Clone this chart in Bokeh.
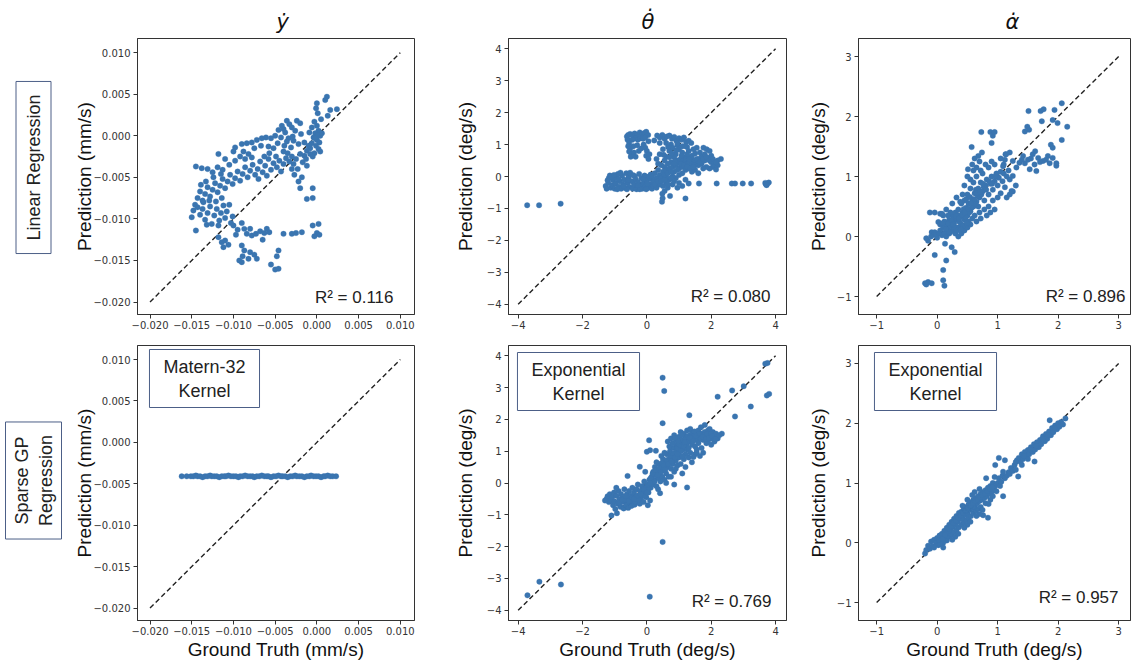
from bokeh.plotting import figure
from bokeh.layouts import row, column
from bokeh.models import Label, FixedTicker
from bokeh.embed import file_html
from bokeh.resources import INLINE

# ---------------- data ----------------
col_titles = ["\u1e8f", "\u03b8\u0307", "\u03b1\u0307"]
row_titles = ["Linear Regression", "Sparse GP\nRegression"]
kernel_names = ["Matern-32\nKernel", "Exponential\nKernel", "Exponential\nKernel"]
r2_lr = ["R\u00b2 = 0.116", "R\u00b2 = 0.080", "R\u00b2 = 0.896"]
r2_gp = [None, "R\u00b2 = 0.769", "R\u00b2 = 0.957"]
ylabels = ["Prediction (mm/s)", "Prediction (deg/s)", "Prediction (deg/s)"]
xlabels = ["Ground Truth (mm/s)", "Ground Truth (deg/s)", "Ground Truth (deg/s)"]

ticks_mm = [-0.020, -0.015, -0.010, -0.005, 0.0, 0.005, 0.010]
ticklabels_mm = ["\u22120.020", "\u22120.015", "\u22120.010", "\u22120.005", "0.000", "0.005", "0.010"]
ticks_th_x = [-4, -2, 0, 2, 4]
ticklabels_th_x = ["\u22124", "\u22122", "0", "2", "4"]
ticks_th_y = [-4, -3, -2, -1, 0, 1, 2, 3, 4]
ticklabels_th_y = ["\u22124", "\u22123", "\u22122", "\u22121", "0", "1", "2", "3", "4"]
ticks_al = [-1, 0, 1, 2, 3]
ticklabels_al = ["\u22121", "0", "1", "2", "3"]

diag_mm = [-0.020, 0.010]
diag_th = [-4, 4]
diag_al = [-1, 3]

lr_ydot = [
    (0.0012, 0.0047), (0.0010, 0.0043), (0.0000, 0.0039), (-0.0001, 0.0033), (0.0001, 0.0027),
    (0.0016, 0.0031), (0.0024, 0.0032), (0.0013, 0.0024), (0.0005, 0.0020), (-0.0003, 0.0017),
    (0.0000, 0.0012), (-0.0006, 0.0010), (0.0002, 0.0006), (-0.0002, 0.0003), (0.0004, 0.0000),
    (-0.0004, -0.0002), (0.0000, -0.0005), (0.0003, -0.0008), (-0.0006, -0.0009), (-0.0001, -0.0012),
    (0.0002, -0.0016), (-0.0008, -0.0015), (0.0004, -0.0019), (-0.0003, -0.0021), (-0.0012, -0.0018),
    (-0.0015, -0.0024), (0.0001, 0.0001), (-0.0002, -0.0003), (0.0006, 0.0003), (-0.0009, 0.0004),
    (-0.0036, 0.0018), (-0.0024, 0.0018), (-0.0020, 0.0015), (-0.0042, 0.0012), (-0.0030, 0.0010),
    (-0.0046, 0.0007), (-0.0038, 0.0004), (-0.0026, 0.0006), (-0.0019, 0.0002), (-0.0050, 0.0000),
    (-0.0043, -0.0002), (-0.0034, -0.0003), (-0.0028, -0.0006), (-0.0055, -0.0003), (-0.0061, -0.0002),
    (-0.0066, -0.0003), (-0.0072, -0.0005), (-0.0078, -0.0008), (-0.0084, -0.0009), (-0.0090, -0.0010),
    (-0.0047, -0.0009), (-0.0039, -0.0012), (-0.0031, -0.0014), (-0.0022, -0.0010), (-0.0015, -0.0008),
    (-0.0010, -0.0012), (-0.0052, -0.0015), (-0.0058, -0.0013), (-0.0067, -0.0012), (-0.0075, -0.0015),
    (-0.0098, -0.0014), (-0.0033, 0.0014), (-0.0040, 0.0008), (-0.0029, -0.0001), (-0.0036, -0.0007),
    (-0.0020, -0.0022), (-0.0025, -0.0028), (-0.0030, -0.0025), (-0.0033, -0.0031), (-0.0037, -0.0027),
    (-0.0040, -0.0034), (-0.0028, -0.0034), (-0.0035, -0.0021), (-0.0045, -0.0030), (-0.0048, -0.0038),
    (-0.0052, -0.0033), (-0.0055, -0.0041), (-0.0043, -0.0043), (-0.0058, -0.0028), (-0.0062, -0.0036),
    (-0.0065, -0.0044), (-0.0068, -0.0031), (-0.0071, -0.0040), (-0.0074, -0.0047), (-0.0077, -0.0035),
    (-0.0080, -0.0042), (-0.0083, -0.0050), (-0.0086, -0.0038), (-0.0089, -0.0046), (-0.0092, -0.0054),
    (-0.0095, -0.0043), (-0.0098, -0.0051), (-0.0101, -0.0058), (-0.0104, -0.0047), (-0.0107, -0.0055),
    (-0.0110, -0.0063), (-0.0113, -0.0052), (-0.0116, -0.0060), (-0.0119, -0.0068), (-0.0122, -0.0057),
    (-0.0125, -0.0065), (-0.0128, -0.0073), (-0.0131, -0.0062), (-0.0134, -0.0070), (-0.0137, -0.0078),
    (-0.0140, -0.0067), (-0.0143, -0.0075), (-0.0146, -0.0083), (-0.0013, -0.0028), (-0.0008, -0.0022),
    (-0.0005, -0.0025), (-0.0017, -0.0032), (-0.0023, -0.0040), (-0.0060, -0.0048), (-0.0070, -0.0052),
    (-0.0049, -0.0025), (-0.0057, -0.0021), (-0.0063, -0.0025), (-0.0012, -0.0036), (-0.0040, -0.0019),
    (-0.0118, -0.0022), (-0.0110, -0.0028), (-0.0105, -0.0035), (-0.0098, -0.0030), (-0.0092, -0.0025),
    (-0.0086, -0.0028), (-0.0100, -0.0019), (-0.0088, -0.0019), (-0.0082, -0.0022), (-0.0078, -0.0026),
    (-0.0145, -0.0037), (-0.0138, -0.0039), (-0.0131, -0.0040), (-0.0125, -0.0044), (-0.0119, -0.0038),
    (-0.0113, -0.0041), (-0.0124, -0.0050), (-0.0133, -0.0055), (-0.0139, -0.0059), (-0.0115, -0.0046),
    (-0.0150, -0.0098), (-0.0148, -0.0090), (-0.0143, -0.0086), (-0.0145, -0.0114), (-0.0140, -0.0095),
    (-0.0137, -0.0088), (-0.0134, -0.0101), (-0.0131, -0.0093), (-0.0128, -0.0085), (-0.0126, -0.0106),
    (-0.0123, -0.0096), (-0.0120, -0.0088), (-0.0117, -0.0102), (-0.0115, -0.0093), (-0.0112, -0.0084),
    (-0.0110, -0.0099), (-0.0108, -0.0091), (-0.0105, -0.0083), (-0.0103, -0.0105), (-0.0101, -0.0097),
    (-0.0136, -0.0080), (-0.0129, -0.0078), (-0.0121, -0.0079), (-0.0114, -0.0075), (-0.0132, -0.0107),
    (-0.0118, -0.0108),
    (-0.0118, -0.0122), (-0.0114, -0.0128), (-0.0110, -0.0126), (-0.0106, -0.0131), (-0.0112, -0.0134),
    (-0.0100, -0.0108), (-0.0095, -0.0113), (-0.0090, -0.0105), (-0.0087, -0.0112), (-0.0084, -0.0118),
    (-0.0080, -0.0112), (-0.0078, -0.0120), (-0.0073, -0.0118), (-0.0068, -0.0115), (-0.0063, -0.0117),
    (-0.0060, -0.0112), (-0.0057, -0.0116), (-0.0040, -0.0118), (-0.0030, -0.0118), (-0.0025, -0.0117),
    (-0.0018, -0.0116), (-0.0005, -0.0108), (0.0002, -0.0106), (0.0000, -0.0117), (0.0003, -0.0119),
    (-0.0003, -0.0121), (-0.0090, -0.0132), (-0.0087, -0.0138), (-0.0089, -0.0145), (-0.0093, -0.0150),
    (-0.0090, -0.0152), (-0.0082, -0.0148), (-0.0080, -0.0140), (-0.0075, -0.0143), (-0.0072, -0.0148),
    (-0.0055, -0.0155), (-0.0050, -0.0161), (-0.0046, -0.0160), (-0.0046, -0.0138), (-0.0048, -0.0145),
    (-0.0065, -0.0125), (-0.0097, -0.0119),
    (-0.0018, -0.0050), (-0.0022, -0.0055), (-0.0020, -0.0063), (-0.0005, -0.0063), (-0.0012, -0.0076),
    (-0.0005, -0.0075), (-0.0027, -0.0047), (-0.0030, -0.0040),
]

lr_thdot = [
    (-3.72, -0.90), (-3.35, -0.90), (-2.68, -0.85),
    (1.30, -0.22), (1.62, -0.22), (2.17, -0.22), (2.64, -0.22), (2.74, -0.22), (2.98, -0.22),
    (3.24, -0.22), (3.68, -0.20), (3.75, -0.22), (3.79, -0.19), (3.72, -0.27), (3.70, -0.24),
    (0.48, -0.54), (0.49, -0.68), (0.47, -0.79), (0.72, -0.61), (1.20, -0.69), (0.55, -0.45),
    (-1.28, -0.30), (-1.25, -0.38), (-1.20, -0.20), (-1.18, -0.05), (-1.15, 0.03), (-1.12, -0.35),
    (-1.08, -0.28), (-1.05, -0.12), (-1.00, -0.38), (-0.97, -0.22), (-0.94, -0.05), (-0.90, 0.08),
    (-0.87, -0.32), (-0.84, -0.15), (-0.80, -0.38), (-0.77, 0.02), (-0.74, -0.25), (-0.70, -0.10),
    (-0.67, -0.36), (-0.64, 0.10), (-0.60, -0.20), (-0.57, -0.03), (-0.54, -0.33), (-0.50, 0.06),
    (-0.47, -0.15), (-0.44, -0.38), (-0.40, -0.25), (-0.37, 0.00), (-0.34, -0.10), (-0.30, -0.35),
    (-0.27, -0.18), (-0.24, 0.08), (-0.20, -0.30), (-0.17, -0.05), (-0.14, -0.38), (-0.10, -0.20),
    (-0.07, 0.03), (-0.04, -0.30), (0.00, -0.12), (0.03, -0.36), (0.06, 0.00), (0.10, -0.25),
    (0.13, -0.08), (0.16, -0.38), (-1.10, 0.00), (-0.92, -0.40), (-0.62, -0.40), (-0.32, -0.40),
    (-0.02, -0.40), (-0.82, 0.12), (-0.52, 0.12), (-0.22, -0.40), (0.20, -0.30),
    (-1.22, -0.12), (-1.02, 0.05), (-0.88, -0.08), (-0.72, -0.30), (-0.58, -0.12), (-0.42, 0.04),
    (-0.28, -0.28), (-0.12, -0.08), (0.02, -0.22), (0.12, 0.06),
    (-0.62, 1.25), (-0.58, 1.30), (-0.52, 1.33), (-0.45, 1.28), (-0.38, 1.35), (-0.30, 1.30),
    (-0.22, 1.38), (-0.15, 1.32), (-0.08, 1.36), (-0.02, 1.40), (0.04, 1.30), (-0.60, 1.15),
    (-0.55, 1.05), (-0.58, 0.95), (-0.52, 0.88), (-0.55, 0.78), (-0.48, 0.70), (-0.50, 0.62),
    (-0.42, 0.95), (-0.40, 0.75), (-0.35, 1.20), (-0.28, 1.15), (-0.20, 1.20), (-0.12, 1.18),
    (-0.05, 1.22), (-0.25, 0.80), (-0.18, 0.88), (-0.10, 1.00), (-0.05, 0.90), (0.00, 0.80),
    (0.05, 1.10), (-0.02, 0.65), (0.05, 0.55), (-0.30, 0.98), (-0.45, 1.15), (0.08, 0.70),
    (-0.35, 0.62),
    (0.32, 1.28), (0.40, 1.22), (0.48, 1.30), (0.55, 1.18), (0.62, 1.25), (0.70, 1.28),
    (0.78, 1.18), (0.85, 1.24), (0.92, 1.12), (1.00, 1.20), (1.08, 1.15), (1.15, 1.22),
    (1.22, 1.08), (1.30, 1.12), (1.38, 1.05), (0.23, 1.13), (0.40, 1.05), (0.60, 1.05),
    (0.75, 1.00), (0.95, 0.98), (1.10, 0.95), (1.25, 0.92),
    (0.30, 0.55), (0.40, 0.70), (0.50, 0.85), (0.60, 0.62), (0.70, 0.80), (0.80, 0.90),
    (0.90, 0.70), (1.00, 0.85), (1.10, 0.75), (1.20, 0.60), (1.30, 0.80), (1.40, 0.65),
    (1.50, 0.72), (1.60, 0.55), (1.70, 0.62), (1.80, 0.50), (1.90, 0.58), (2.00, 0.45),
    (2.10, 0.40), (2.20, 0.35), (2.30, 0.55), (1.76, 0.90), (1.86, 0.85), (1.95, 0.80),
    (2.05, 0.30), (2.15, 0.22), (1.95, 0.25), (1.85, 0.30), (1.70, 0.40), (1.55, 0.45),
    (1.45, 0.50), (1.35, 0.40), (1.25, 0.45), (1.15, 0.50), (1.05, 0.55), (0.95, 0.50),
    (0.85, 0.60), (0.75, 0.45), (0.65, 0.40), (0.55, 0.30), (0.45, 0.35), (0.35, 0.20),
    (0.25, 0.10), (0.15, 0.00), (0.20, -0.15), (0.30, -0.05), (0.40, 0.05), (0.50, 0.15),
    (0.60, 0.20), (0.70, 0.25), (0.80, 0.30), (0.90, 0.35), (1.00, 0.25), (1.10, 0.30),
    (1.20, 0.20), (1.30, 0.25), (1.40, 0.15), (1.50, 0.20), (1.60, 0.10), (1.00, 0.05),
    (0.90, -0.05), (0.80, 0.00), (0.70, -0.10), (0.60, -0.20), (0.50, -0.30), (0.40, -0.25),
    (0.30, -0.35), (0.60, 0.00), (0.85, 0.15), (1.10, 0.10), (1.35, 0.60), (1.55, 0.90),
    (1.65, 0.75), (1.45, 0.85), (1.20, 0.95), (0.95, 1.05), (0.70, 0.60), (0.55, 0.50),
    (0.35, 0.40), (2.20, 0.50), (2.00, 0.65), (1.80, 0.70), (1.60, 0.35), (1.75, 0.25),
    (1.20, -0.10), (1.00, -0.20), (0.80, -0.25), (0.65, -0.35), (1.10, -0.30), (0.95, -0.35),
    (0.88, 0.48), (1.02, 0.42), (1.18, 0.38), (1.32, 0.55), (1.48, 0.35), (1.62, 0.48),
    (0.78, 0.72), (0.92, 0.82), (1.08, 0.65), (1.25, 0.70), (0.66, 0.92), (0.52, 0.68),
    (0.25, -0.25), (0.35, -0.15), (0.45, -0.05), (0.55, 0.05), (0.65, 0.10), (0.75, 0.15),
    (0.85, 0.40), (0.95, 0.20), (1.05, 0.40), (1.15, 0.35), (1.25, 0.30), (1.35, 0.25),
    (1.45, 0.30), (1.55, 0.55), (1.65, 0.45), (1.75, 0.55), (1.85, 0.60), (1.95, 0.50),
    (2.05, 0.55), (2.15, 0.45), (0.45, -0.15), (0.55, -0.10), (0.65, -0.25), (0.75, -0.05),
    (0.85, -0.15),
]

lr_adot = [
    (-0.20, -0.78), (-0.15, -0.76), (-0.09, -0.78), (-0.18, -0.80), (0.12, -0.82), (0.10, -0.73),
    (0.10, -0.56), (0.15, -0.40), (-0.04, -0.31), (0.24, -0.18), (0.29, -0.26), (0.13, -0.12),
    (-0.12, 0.40), (-0.04, 0.40), (0.02, 0.24), (-0.09, 0.07), (-0.15, -0.07), (-0.18, -0.03),
    (-0.04, 0.07), (0.05, 0.38),
    (0.05, 0.10), (0.08, 0.02), (0.10, 0.15), (0.12, 0.05), (0.15, 0.20), (0.15, 0.00),
    (0.18, 0.12), (0.20, 0.28), (0.20, 0.05), (0.22, 0.18), (0.25, 0.35), (0.25, 0.10),
    (0.28, 0.22), (0.30, 0.40), (0.30, 0.05), (0.32, 0.28), (0.35, 0.15), (0.35, 0.45),
    (0.38, 0.32), (0.40, 0.20), (0.40, 0.55), (0.42, 0.40), (0.45, 0.28), (0.45, 0.60),
    (0.48, 0.48), (0.50, 0.35), (0.50, 0.70), (0.52, 0.55), (0.55, 0.42), (0.55, 0.80),
    (0.58, 0.62), (0.60, 0.50), (0.60, 0.90), (0.62, 0.72), (0.65, 0.58), (0.65, 1.00),
    (0.68, 0.80), (0.70, 0.65), (0.72, 0.90), (0.75, 0.75), (0.75, 1.05), (0.78, 0.60),
    (0.80, 0.85), (0.82, 0.95), (0.85, 0.70), (0.88, 0.88), (0.90, 1.00), (0.92, 0.78),
    (0.95, 0.92), (0.98, 1.05), (1.00, 0.85), (1.02, 0.98), (1.05, 1.08), (1.08, 0.92),
    (1.10, 1.05), (1.12, 0.82), (1.15, 1.00), (1.18, 1.10), (0.30, 0.15), (0.28, 0.30),
    (0.22, 0.40), (0.18, 0.35), (0.12, 0.25), (0.10, 0.35), (0.05, 0.20), (0.02, 0.05),
    (0.00, -0.02), (-0.05, 0.03), (-0.10, 0.00), (0.35, 0.00), (0.40, 0.05), (0.45, 0.10),
    (0.50, 0.15), (0.55, 0.20), (0.58, 0.30), (0.62, 0.35), (0.65, 0.25), (0.70, 0.40),
    (0.72, 0.30), (0.78, 0.45), (0.82, 0.35), (0.85, 0.50), (0.88, 0.40), (0.92, 0.60),
    (0.95, 0.45), (1.00, 0.65), (0.68, 0.50), (0.52, 0.25), (0.48, 0.62), (0.42, 0.70),
    (0.38, 0.58), (0.55, 0.95), (0.60, 1.10), (0.50, 1.00), (0.45, 0.85), (0.65, 1.15),
    (0.70, 1.25), (0.62, 1.30), (0.58, 1.20), (0.72, 1.10), (0.80, 1.20), (0.85, 1.15),
    (0.90, 1.25), (0.95, 1.20), (1.05, 1.30), (1.10, 1.20), (1.20, 1.40), (1.15, 0.65),
    (1.20, 0.70), (1.25, 0.75), (1.30, 0.85), (1.05, 0.72), (0.25, 0.55), (0.32, 0.65),
    (0.15, 0.45), (0.08, 0.38),
    (0.22, 0.08), (0.27, 0.16), (0.33, 0.10), (0.37, 0.24), (0.43, 0.18), (0.47, 0.32),
    (0.53, 0.40), (0.57, 0.48), (0.63, 0.55), (0.67, 0.68), (0.73, 0.70), (0.77, 0.82),
    (0.18, 0.22), (0.24, 0.26), (0.34, 0.36), (0.44, 0.46), (0.54, 0.66), (0.64, 0.78),
    (0.26, 0.20), (0.31, 0.34), (0.36, 0.30), (0.41, 0.36), (0.46, 0.40), (0.51, 0.46),
    (0.56, 0.56), (0.61, 0.62), (0.66, 0.72), (0.71, 0.74), (0.76, 0.88), (0.81, 0.78),
    (0.86, 0.92), (0.91, 0.88), (0.96, 1.00), (0.19, 0.08), (0.14, 0.12), (0.09, 0.22),
    (0.39, 0.12), (0.49, 0.22),
    (0.88, 1.74), (0.92, 1.68), (0.73, 1.74), (0.90, 1.56), (0.74, 1.40), (0.68, 1.34),
    (0.57, 1.49), (0.51, 1.12), (1.13, 1.37), (1.12, 1.28), (1.23, 0.76), (0.95, 1.74),
    (2.06, 2.22), (1.94, 2.11), (1.71, 2.09), (1.76, 2.12), (1.51, 2.09), (1.99, 1.89),
    (1.91, 1.94), (2.15, 1.83), (1.73, 1.92), (1.49, 1.83), (1.52, 1.78), (1.45, 1.75),
    (1.88, 1.53), (1.91, 1.48), (2.06, 1.61), (1.97, 1.18), (1.64, 1.09),
    (1.42, 1.34), (1.50, 1.28), (1.58, 1.37), (1.67, 1.31), (1.75, 1.26), (1.83, 1.34),
    (1.91, 1.31), (1.61, 1.20), (1.53, 1.12), (1.97, 1.22), (1.36, 1.23), (1.31, 1.15),
    (1.25, 1.01), (1.20, 0.95), (1.14, 1.37), (1.25, 1.26), (1.09, 1.17), (1.45, 1.22),
    (1.55, 1.30), (1.70, 1.24), (1.80, 1.28), (1.86, 1.22), (1.40, 1.28), (1.62, 1.42),
]

gp_ydot_x = [-0.0162, -0.0156, -0.0151, -0.0148, -0.0145, -0.0143, -0.0140, -0.0137, -0.0134,
             -0.0131, -0.0128, -0.0126, -0.0123, -0.0120, -0.0117, -0.0114, -0.0111, -0.0109,
             -0.0106, -0.0103, -0.0100, -0.0097, -0.0094, -0.0092, -0.0089, -0.0086, -0.0083,
             -0.0080, -0.0077, -0.0075, -0.0072, -0.0069, -0.0066, -0.0063, -0.0060, -0.0058,
             -0.0055, -0.0052, -0.0049, -0.0046, -0.0043, -0.0041, -0.0038, -0.0035, -0.0032,
             -0.0029, -0.0026, -0.0024, -0.0021, -0.0018, -0.0015, -0.0012, -0.0009, -0.0007,
             -0.0004, -0.0001, 0.0002, 0.0005, 0.0008, 0.0010, 0.0013, 0.0016, 0.0019, 0.0023]
gp_ydot_y = [-0.0041, -0.0041, -0.0041, -0.0041, -0.0040, -0.0041, -0.0041, -0.0042, -0.0041,
             -0.0041, -0.0040, -0.0041, -0.0041, -0.0041, -0.0042, -0.0041, -0.0041, -0.0041,
             -0.0040, -0.0041, -0.0041, -0.0041, -0.0042, -0.0041, -0.0041, -0.0040, -0.0041,
             -0.0041, -0.0041, -0.0042, -0.0041, -0.0041, -0.0040, -0.0041, -0.0041, -0.0041,
             -0.0042, -0.0041, -0.0041, -0.0040, -0.0041, -0.0041, -0.0041, -0.0042, -0.0041,
             -0.0041, -0.0040, -0.0041, -0.0041, -0.0041, -0.0042, -0.0041, -0.0041, -0.0040,
             -0.0041, -0.0041, -0.0041, -0.0042, -0.0041, -0.0041, -0.0040, -0.0041, -0.0041, -0.0041]

gp_thdot = [
    (-3.71, -3.53), (-3.34, -3.10), (-2.67, -3.19), (0.09, -3.57), (0.49, -1.85), (0.49, 3.31),
    (0.54, 2.89), (0.49, 1.88), (1.32, 2.13), (2.20, 2.71), (2.65, 2.91), (3.01, 3.04),
    (3.23, 2.40), (2.74, 2.09), (3.68, 3.75), (3.75, 3.77), (3.80, 2.80), (3.73, 2.75),
    (1.25, -0.14), (0.41, -0.32),
    (-1.25, -0.50), (-1.22, -0.42), (-1.18, -0.60), (-1.15, -0.35), (-1.12, -0.55), (-1.10, -1.02),
    (-1.08, -0.45), (-1.05, -0.70), (-1.02, -0.30), (-1.00, -0.58), (-0.98, -0.82), (-0.95, -0.40),
    (-0.93, -0.95), (-0.90, -0.65), (-0.88, -0.25), (-0.85, -0.50), (-0.82, -0.75), (-0.80, -0.35),
    (-0.78, -0.60), (-0.75, -0.45), (-0.72, -0.80), (-0.70, -0.20), (-0.68, -0.55), (-0.65, -0.70),
    (-0.62, -0.35), (-0.60, -0.50), (-0.58, -0.78), (-0.55, -0.25), (-0.52, -0.62), (-0.50, -0.40),
    (-0.48, -0.72), (-0.45, -0.15), (-0.42, -0.55), (-0.40, -0.30), (-0.38, -0.68), (-0.35, -0.45),
    (-0.32, -0.20), (-0.30, -0.60), (-0.28, -0.05), (-0.25, -0.40), (-0.22, -0.65), (-0.20, -0.25),
    (-0.18, -0.50), (-0.15, -0.10), (-0.12, -0.35), (-0.10, -0.60), (-0.08, 0.05), (-0.05, -0.25),
    (-0.02, -0.45), (0.00, -0.10), (0.03, -0.70), (0.05, -0.30), (0.08, 0.10), (0.10, -0.55),
    (0.12, -0.15), (-0.60, 0.22), (-0.22, 0.51), (-0.05, 0.35), (0.00, 0.98), (0.10, 1.03),
    (0.07, 1.34), (0.28, 1.01), (-1.30, -0.55), (-0.95, -0.15),
    (-0.86, -0.62), (-0.76, -0.52), (-0.66, -0.42), (-0.56, -0.56), (-0.46, -0.46), (-0.36, -0.58),
    (-0.26, -0.52), (-0.16, -0.38), (-0.06, -0.40), (0.04, -0.20),
    (0.15, 0.20), (0.18, -0.05), (0.20, 0.35), (0.22, 0.10), (0.25, 0.50), (0.28, 0.25),
    (0.30, -0.10), (0.32, 0.40), (0.35, 0.15), (0.38, 0.60), (0.40, 0.30), (0.42, 0.05),
    (0.45, 0.50), (0.48, 0.20), (0.50, 0.75), (0.52, 0.40), (0.55, 0.10), (0.58, 0.62),
    (0.60, 0.30), (0.62, 0.90), (0.65, 0.50), (0.68, 0.20), (0.70, 0.75), (0.72, 1.00),
    (0.75, 0.45), (0.78, 0.85), (0.80, 0.60), (0.82, 1.10), (0.85, 0.35), (0.88, 0.95),
    (0.90, 0.70), (0.92, 1.20), (0.95, 0.55), (0.98, 1.05), (0.30, 0.65), (0.45, 0.85),
    (0.55, 0.95), (0.35, -0.20), (0.60, 0.00), (0.75, 0.20), (0.85, -0.05), (0.90, 0.45),
    (1.00, 0.80), (1.05, 0.60), (1.10, 0.30), (1.15, 0.75), (1.20, 0.50), (1.30, 0.80),
    (1.40, 0.65), (1.50, 0.90),
    (0.05, -0.05), (0.12, 0.15), (0.18, 0.30), (0.24, 0.05), (0.27, 0.40), (0.33, 0.25),
    (0.37, 0.45), (0.43, 0.35), (0.47, 0.62), (0.53, 0.55), (0.57, 0.42), (0.63, 0.72),
    (0.67, 0.60), (0.73, 0.85), (0.77, 0.68), (0.83, 0.92), (0.87, 0.80), (0.93, 1.05),
    (0.97, 0.95), (1.03, 1.15), (1.07, 1.25), (1.13, 1.05), (1.18, 1.30), (1.23, 1.22),
    (-0.40, -0.50), (-0.30, -0.40), (-0.20, -0.35), (-0.10, -0.20), (0.00, -0.30), (0.10, 0.00),
    (0.65, 1.30), (0.70, 1.15), (0.75, 1.40), (0.80, 1.25), (0.85, 1.50), (0.90, 1.35),
    (0.95, 1.10), (1.00, 1.45), (1.00, 1.20), (1.05, 1.60), (1.05, 1.00), (1.10, 1.35),
    (1.15, 1.55), (1.15, 1.15), (1.20, 1.40), (1.25, 1.65), (1.25, 1.05), (1.30, 1.30),
    (1.35, 1.50), (1.40, 1.20), (1.40, 1.60), (1.45, 1.40), (1.50, 1.55), (1.50, 1.15),
    (1.55, 1.35), (1.60, 1.65), (1.60, 1.25), (1.65, 1.45), (1.70, 1.55), (1.70, 1.10),
    (1.75, 1.35), (1.80, 1.60), (1.80, 1.82), (1.85, 1.45), (1.90, 1.30), (1.90, 1.65),
    (1.95, 1.50), (2.00, 1.40), (2.05, 1.60), (2.10, 1.45), (2.15, 1.55), (2.20, 1.40),
    (2.33, 1.55), (1.55, 0.95), (1.65, 0.85), (1.75, 0.95), (1.45, 0.82), (1.35, 0.95),
    (1.20, 0.90), (1.10, 0.85), (0.95, 0.90), (1.30, 1.10), (1.55, 1.05), (1.85, 1.25),
    (2.00, 1.20), (2.10, 1.30), (1.95, 1.70), (1.68, 1.75), (1.35, 1.70),
    (0.88, 1.42), (0.98, 1.30), (1.08, 1.50), (1.18, 1.28), (1.28, 1.48), (1.38, 1.38),
    (1.48, 1.62), (1.58, 1.45), (1.68, 1.38), (1.78, 1.50), (1.88, 1.55), (2.00, 1.55),
    (1.33, 1.42), (1.43, 1.30), (1.53, 1.48), (1.63, 1.55), (1.73, 1.45), (1.83, 1.38),
    (1.93, 1.42), (2.03, 1.48), (2.13, 1.38), (2.25, 1.50),
]

gp_adot = [
    (-0.20, -0.18), (-0.18, -0.12), (-0.15, -0.05), (-0.12, -0.10), (-0.10, 0.02), (-0.08, -0.06),
    (-0.05, 0.05), (-0.02, 0.00), (0.00, 0.08), (0.02, -0.04), (0.04, 0.12), (0.06, 0.03),
    (0.08, 0.15), (0.10, -0.08), (0.10, 0.08), (0.12, 0.20), (0.14, 0.10), (0.16, 0.25),
    (0.16, 0.04), (0.18, 0.18), (0.20, 0.30), (0.20, 0.10), (0.22, 0.22), (0.24, 0.35),
    (0.24, 0.14), (0.26, 0.27), (0.28, 0.40), (0.28, 0.18), (0.30, 0.30), (0.32, 0.45),
    (0.32, 0.22), (0.34, 0.35), (0.36, 0.50), (0.36, 0.26), (0.38, 0.40), (0.40, 0.52),
    (0.40, 0.30), (0.42, 0.44), (0.44, 0.56), (0.44, 0.34), (0.46, 0.47), (0.48, 0.60),
    (0.48, 0.38), (0.50, 0.50), (0.52, 0.64), (0.52, 0.42), (0.54, 0.55), (0.56, 0.68),
    (0.56, 0.45), (0.58, 0.58), (0.60, 0.72), (0.60, 0.50), (0.62, 0.62), (0.64, 0.75),
    (0.64, 0.53), (0.66, 0.66), (0.68, 0.78), (0.68, 0.57), (0.70, 0.70), (0.72, 0.82),
    (0.72, 0.60), (0.74, 0.72), (0.76, 0.85), (0.76, 0.46), (0.78, 0.75), (0.80, 0.88),
    (0.80, 0.66), (0.82, 0.78), (0.84, 0.92), (0.84, 0.42), (0.86, 0.82), (0.88, 0.95),
    (0.88, 0.72), (0.90, 0.85), (0.92, 1.00), (0.92, 0.78), (0.94, 0.90), (0.96, 1.30),
    (0.96, 0.95), (0.98, 0.86), (1.00, 1.00), (1.02, 1.42), (1.02, 1.08), (1.04, 0.95),
    (1.06, 1.02), (1.08, 1.12), (1.09, 1.19), (1.09, 0.78), (1.12, 1.38), (1.12, 1.08),
    (1.15, 1.12), (1.18, 1.18), (1.20, 1.15), (1.22, 1.25), (1.25, 1.20), (1.28, 1.30),
    (1.30, 1.22), (1.32, 1.38), (1.34, 1.11), (1.35, 1.42), (1.38, 1.35), (1.40, 1.48),
    (1.42, 1.40), (1.45, 1.52), (1.48, 1.45), (1.50, 1.55), (1.52, 1.48), (1.55, 1.60),
    (1.58, 1.52), (1.60, 1.65), (1.61, 1.36), (1.62, 1.56), (1.65, 1.68), (1.68, 1.60),
    (1.70, 1.72), (1.72, 1.65), (1.75, 1.78), (1.78, 1.70), (1.80, 1.82), (1.82, 1.74),
    (1.85, 1.86), (1.86, 2.05), (1.88, 1.80), (1.90, 1.92), (1.92, 1.85), (1.95, 1.96),
    (1.98, 1.90), (2.00, 2.00), (2.05, 2.02), (2.08, 1.98), (2.12, 2.08), (2.02, 1.94),
    (1.40, 1.30), (1.50, 1.40), (1.30, 1.35), (0.10, 0.00), (0.20, 0.20), (0.30, 0.10),
    (0.40, 0.40), (0.50, 0.30), (0.60, 0.60), (0.70, 0.48), (0.45, 0.25), (0.35, 0.15),
    (0.25, 0.05), (0.55, 0.35), (0.65, 0.45), (0.75, 0.55), (0.85, 0.65), (0.15, 0.15),
    (0.05, -0.02), (-0.05, -0.08), (0.58, 0.80), (0.62, 0.85), (0.70, 0.90), (0.50, 0.72),
    (0.42, 0.62), (0.95, 1.10), (0.81, 1.08),
    (0.03, 0.05), (0.09, 0.06), (0.13, 0.13), (0.19, 0.24), (0.23, 0.28), (0.27, 0.33),
    (0.31, 0.37), (0.35, 0.42), (0.39, 0.46), (0.43, 0.50), (0.47, 0.54), (0.51, 0.58),
    (0.55, 0.62), (0.59, 0.66), (0.63, 0.70), (0.67, 0.72), (0.71, 0.76), (0.75, 0.80),
    (0.79, 0.82), (0.83, 0.86), (0.87, 0.90), (0.91, 0.93), (1.44, 1.45), (1.54, 1.56),
    (1.64, 1.62), (1.74, 1.74), (1.84, 1.80), (1.94, 1.92),
]

# ---------------- styling / layout ----------------
DOT = "#3a75b0"
BOX = "#4c5f87"
ROW_H = [335, 327]
BORDERS = [(38, 21), (10, 42)]  # (top, bottom) per row
COL0_W = 68
COLS = [  # width, min_border_left, min_border_right, ylabel standoff
    (372, 69, 26, -5),
    (360, 68, 14, 8),
    (331, 58, 1, 5),
]
TITLE_OFFSETS = [139, 133, 147]

rng_mm = (-0.0215, 0.0117)
rng_th_x = (-4.30, 4.34)
rng_th_y = (-4.32, 4.32)
rng_al_x = (-1.30, 3.196)
rng_al_y = (-1.30, 3.30)

fh1 = ROW_H[0] - sum(BORDERS[0])
fh2 = ROW_H[1] - sum(BORDERS[1])


def unzip(pts):
    return [q[0] for q in pts], [q[1] for q in pts]


def make_label_fig(h, text, cx, cy, pad):
    f = figure(width=COL0_W, height=h, x_range=(0, 1), y_range=(0, 1), min_border=0,
               toolbar_location=None, output_backend="svg", tools="")
    f.axis.visible = False
    f.grid.visible = False
    f.outline_line_color = None
    f.add_layout(Label(x=cx, y=cy, x_units="screen", y_units="screen", text=text,
                       angle=90, angle_units="deg", text_align="center", text_baseline="middle",
                       text_font="Liberation Sans", text_font_size="18px", text_color="#222222",
                       text_line_height=1.2,
                       border_line_color=BOX, border_line_width=1, background_fill_color="white",
                       padding=pad))
    return f


def make_panel(r, c, xs, ys, xr, yr, tx, tlx, ty, tly, diag, ylabel, xlabel, title=None):
    w, mbl, mbr, yls = COLS[c]
    mbt, mbb = BORDERS[r]
    p = figure(width=w, height=ROW_H[r], x_range=xr, y_range=yr,
               min_border_left=mbl, min_border_right=mbr, min_border_top=mbt, min_border_bottom=mbb,
               toolbar_location=None, output_backend="svg", tools="")
    if title:
        p.title.text = title
        p.title.align = "left"
        p.title.offset = TITLE_OFFSETS[c]
        p.title.text_font = "DejaVu Sans"
        p.title.text_font_style = "italic"
        p.title.text_font_size = "21px"
        p.title.text_color = "#111111"
        p.title.standoff = 10
    p.grid.visible = False
    p.outline_line_color = "#333333"
    p.outline_line_width = 1
    p.background_fill_color = "white"
    p.border_fill_color = "white"
    p.xaxis.ticker = FixedTicker(ticks=tx)
    p.xaxis.major_label_overrides = dict(zip(tx, tlx))
    p.yaxis.ticker = FixedTicker(ticks=ty)
    p.yaxis.major_label_overrides = dict(zip(ty, tly))
    for ax in (p.xaxis[0], p.yaxis[0]):
        ax.axis_line_color = "#333333"
        ax.major_tick_line_color = "#333333"
        ax.major_tick_out = 4
        ax.major_tick_in = 0
        ax.minor_tick_line_color = None
        ax.major_label_text_font = "DejaVu Sans"
        ax.major_label_text_font_size = "10px"
        ax.major_label_text_color = "#333333"
        ax.axis_label_text_font = "Liberation Sans"
        ax.axis_label_text_font_size = "19px"
        ax.axis_label_text_font_style = "normal"
        ax.axis_label_text_color = "#111111"
    p.xaxis.major_label_standoff = 2
    p.yaxis.major_label_standoff = 3
    p.yaxis.axis_label = ylabel
    p.yaxis.axis_label_standoff = yls
    if xlabel:
        p.xaxis.axis_label = xlabel
        p.xaxis.axis_label_standoff = 1
    p.line(diag, diag, line_color="#222222", line_width=1.4, line_dash="5 3")
    p.scatter(xs, ys, size=5.5, fill_color=DOT, line_color=DOT, line_width=0.3)
    return p


def add_r2(p, text, x, y):
    p.add_layout(Label(x=x, y=y, x_units="screen", y_units="screen", text=text,
                       text_align="right", text_baseline="middle", text_font="Liberation Sans",
                       text_font_size="17px", text_color="#222222"))


def add_kernel(p, text, cx, cy):
    p.add_layout(Label(x=cx, y=cy, x_units="screen", y_units="screen", text=text,
                       text_align="center", text_baseline="middle", text_font="Liberation Sans",
                       text_font_size="18px", text_color="#222222", text_line_height=1.2,
                       border_line_color=BOX, border_line_width=1, background_fill_color="white",
                       padding=dict(left=14, right=14, top=7, bottom=7)))


x1, y1 = unzip(lr_ydot)
x2, y2 = unzip(lr_thdot)
x3, y3 = unzip(lr_adot)
x5, y5 = unzip(gp_thdot)
x6, y6 = unzip(gp_adot)

p1 = make_panel(0, 0, x1, y1, rng_mm, rng_mm, ticks_mm, ticklabels_mm, ticks_mm, ticklabels_mm,
                diag_mm, ylabels[0], None, col_titles[0])
p2 = make_panel(0, 1, x2, y2, rng_th_x, rng_th_y, ticks_th_x, ticklabels_th_x, ticks_th_y,
                ticklabels_th_y, diag_th, ylabels[1], None, col_titles[1])
p3 = make_panel(0, 2, x3, y3, rng_al_x, rng_al_y, ticks_al, ticklabels_al, ticks_al, ticklabels_al,
                diag_al, ylabels[2], None, col_titles[2])
p4 = make_panel(1, 0, gp_ydot_x, gp_ydot_y, rng_mm, rng_mm, ticks_mm, ticklabels_mm, ticks_mm,
                ticklabels_mm, diag_mm, ylabels[0], xlabels[0])
p5 = make_panel(1, 1, x5, y5, rng_th_x, rng_th_y, ticks_th_x, ticklabels_th_x, ticks_th_y,
                ticklabels_th_y, diag_th, ylabels[1], xlabels[1])
p6 = make_panel(1, 2, x6, y6, rng_al_x, rng_al_y, ticks_al, ticklabels_al, ticks_al, ticklabels_al,
                diag_al, ylabels[2], xlabels[2])

add_r2(p1, r2_lr[0], 256, 17)
add_r2(p2, r2_lr[1], 262, 18)
add_r2(p3, r2_lr[2], 267, 18)
add_r2(p5, r2_gp[1], 263, 19)
add_r2(p6, r2_gp[2], 260, 23)

add_kernel(p4, kernel_names[0], 67, fh2 - 33)
add_kernel(p5, kernel_names[1], 70, fh2 - 36)
add_kernel(p6, kernel_names[2], 77, fh2 - 36)

lab1 = make_label_fig(ROW_H[0], row_titles[0], 33, fh1 - 129,
                      dict(left=13, right=13, top=8, bottom=7))
lab2 = make_label_fig(ROW_H[1], row_titles[1], 33, fh2 - 135,
                      dict(left=13, right=13, top=6, bottom=6))

layout = column(row(lab1, p1, p2, p3), row(lab2, p4, p5, p6))

open("out.html", "w").write(file_html(layout, INLINE))
